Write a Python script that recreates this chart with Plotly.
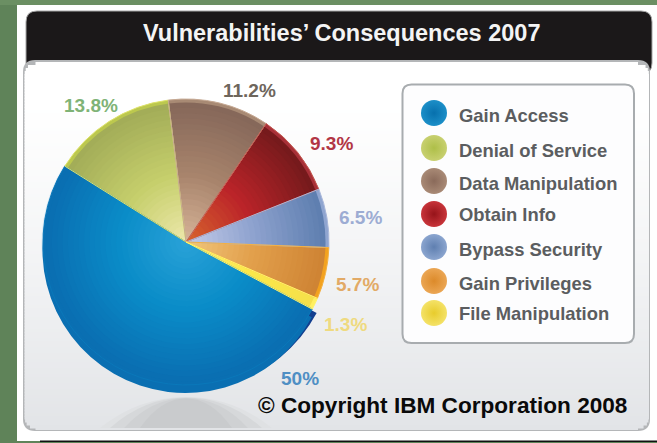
import plotly.graph_objects as go

# Chart content
TITLE = "Vulnerabilities’ Consequences 2007"
COPYRIGHT = "© Copyright IBM Corporation 2008"
categories = ["Gain Access", "Denial of Service", "Data Manipulation", "Obtain Info",
              "Bypass Security", "Gain Privileges", "File Manipulation"]
shares = [50, 13.8, 11.2, 9.3, 6.5, 5.7, 1.3]
share_labels = ["50%", "13.8%", "11.2%", "9.3%", "6.5%", "5.7%", "1.3%"]

W, H = 657, 443

# Slice shading: colour at the hub, mid radius, and outer edge, plus rim
hub_colors = ["#2aa3d8", "#efe9ae", "#d9b69a", "#d9682e", "#c6cdea", "#f2c87e", "#fff27a"]
mid_colors = ["#0a8cc8", "#c6cf6c", "#a8846c", "#bb2429", "#8fa3cf", "#e2a04c", "#fbe84a"]
edge_colors = ["#0a6fb2", "#a3ad58", "#86685a", "#761a1c", "#5f7fb0", "#cf8434", "#f6e04a"]
rim_colors = ["#0a6fb2", "#bcc84e", "#a88a74", "#a83038", "#8fa5d0", "#f3a21f", "#fff060"]
label_colors = ["#4f8fc4", "#7fb376", "#6e665c", "#b23645", "#9dacd3", "#e2aa66", "#efda80"]
swatch_hubs = ["#1c8fc8", "#c8d070", "#a98a76", "#c8343a", "#8ba5cf", "#eba654", "#f4e268"]
swatch_edges = ["#0770ad", "#aebf48", "#8a6a5a", "#96141a", "#5f7fb0", "#dc8a2a", "#e8cc2c"]

PIE_CX, PIE_CY, PIE_R = 186, 242, 143
PIE_ROTATION = 118


def to_rgb(h):
    return tuple(int(h[i:i + 2], 16) for i in (1, 3, 5))


def mix(a, b, t):
    ca, cb = to_rgb(a), to_rgb(b)
    return "rgb(%d,%d,%d)" % tuple(round(x + (y - x) * t) for x, y in zip(ca, cb))


def shade(i, f):
    # f is the fraction of the radius, 0 at the hub and 1 at the edge
    if f < 0.5:
        return mix(hub_colors[i], mid_colors[i], f / 0.5)
    return mix(mid_colors[i], edge_colors[i], (f - 0.5) / 0.5)


def pie_layer(cx, cy, r, colors, line=None):
    return go.Pie(
        values=shares, labels=categories, sort=False, direction="clockwise",
        rotation=PIE_ROTATION, textinfo="none", hoverinfo="skip", showlegend=False,
        domain=dict(x=[(cx - r) / W, (cx + r) / W], y=[1 - (cy + r) / H, 1 - (cy - r) / H]),
        marker=dict(colors=colors, line=line or dict(width=0)),
    )


fig = go.Figure()

# Pale halo, then the lower drop edge of the disc:
# a dark band on the lower right and a blue band across the bottom
clear = ["rgba(0,0,0,0)"] * 6
fig.add_trace(pie_layer(PIE_CX, PIE_CY + 1, PIE_R + 1.5, ["#d8e8f3"] + clear))
fig.add_trace(pie_layer(PIE_CX + 3.5, PIE_CY + 3.5, PIE_R + 1, ["#123f8f"] + clear))
fig.add_trace(pie_layer(PIE_CX - 0.5, PIE_CY + 8, PIE_R, ["#0a6fb2"] + clear))

# Rim of the top face
fig.add_trace(pie_layer(PIE_CX, PIE_CY, PIE_R, rim_colors))

# Concentric layers give each slice its radial shading
steps = 26
for k in range(steps):
    f = 1 - k / steps
    colors = [shade(i, f) for i in range(len(shares))]
    fig.add_trace(pie_layer(PIE_CX, PIE_CY, (PIE_R - 3.5) * f, colors))

# Thin dividers between slices
divider = ["#0a78ba", "#dfe36a", "#c6a993", "#c4584e", "#a9b7da", "#f4b040", "#fff46a"]
fig.add_trace(pie_layer(PIE_CX, PIE_CY, PIE_R, ["rgba(0,0,0,0)"] * 7,
                        dict(color=divider, width=1)))

# Legend swatches
swatch_x = [434] * 7
swatch_y = [113, 148, 181, 214, 247, 281, 313]
fig.add_trace(go.Scatter(
    x=swatch_x, y=swatch_y, mode="markers", hoverinfo="skip", showlegend=False,
    marker=dict(size=26, color=swatch_hubs, line=dict(width=0),
                gradient=dict(type="radial", color=swatch_edges)),
))

shapes = []


def rect(x0, y0, x1, y1, fill):
    shapes.append(dict(type="rect", x0=x0, y0=y0, x1=x1, y1=y1, fillcolor=fill,
                       line=dict(width=0), layer="below"))


def round_path(x0, y0, x1, y1, r):
    return (f"M {x0 + r} {y0} L {x1 - r} {y0} Q {x1} {y0} {x1} {y0 + r} "
            f"L {x1} {y1 - r} Q {x1} {y1} {x1 - r} {y1} L {x0 + r} {y1} "
            f"Q {x0} {y1} {x0} {y1 - r} L {x0} {y0 + r} Q {x0} {y0} {x0 + r} {y0} Z")


# Green page, white card
rect(0, 0, W, H, "#5f8359")
rect(0, 0, W, 5, "#6b8f63")
rect(17, 5, W, 441, "#ffffff")
rect(40, 440.5, W, 442, "#111111")

# Header band, its lower corners tucked behind the panel
shapes.append(dict(type="path", path=round_path(26, 11, 652, 74, 11), fillcolor="#1b1819",
                   line=dict(color="#a5a5a5", width=1), layer="below"))

# Panel outline, then its vertical gradient
shapes.append(dict(type="path", path=round_path(23, 60, 650, 431, 12), fillcolor="#b4b6b8",
                   line=dict(width=0), layer="below"))
PX0, PX1, PY0, PY1, PR = 24.5, 649, 62, 429.5, 11
y = PY0
while y < PY1:
    y2 = min(y + 3, PY1)
    t = (y - PY0) / (PY1 - PY0)
    col = mix("#ffffff", "#e2e4e7", max(0, (t - 0.1) / 0.9) ** 1.2)
    inset = 0
    if y < PY0 + PR:
        inset = PR - (PR ** 2 - (PY0 + PR - y) ** 2) ** 0.5
    elif y2 > PY1 - PR:
        inset = PR - max(PR ** 2 - (y2 - (PY1 - PR)) ** 2, 0) ** 0.5
    rect(PX0 + inset, y, PX1 - inset, y2 + 0.5, col)
    y = y2

# Reflection below the disc
for half, top, col in [(86, 397, "#dfe1e3"), (76, 397.5, "#d6d8da"), (62, 398, "#cfd1d3"),
                       (46, 398.5, "#c9cbcd")]:
    shapes.append(dict(type="path",
                       path=f"M {186 - half} 428 Q {186 - half * 0.55} {top} 186 {top} "
                            f"Q {186 + half * 0.55} {top} {186 + half} 428 Z",
                       fillcolor=col, line=dict(width=0), layer="below"))

# Legend box
shapes.append(dict(type="path", path=round_path(402.5, 84.5, 634, 343, 9), fillcolor="#fdfdfe",
                   line=dict(color="#a8acaf", width=2), layer="below"))

FONT = "Liberation Sans, Arial, sans-serif"
annotations = [
    dict(x=342, y=33, text=f"<b>{TITLE}</b>", font=dict(size=23.5, color="#f4f4f4", family=FONT)),
    dict(x=442.5, y=405, text=f"<b>{COPYRIGHT}</b>", font=dict(size=22.6, color="#0a0a0a", family=FONT)),
]

# Percentage labels beside the slices
label_pos = [(300, 378), (91, 105), (249, 90), (331, 143), (360, 217), (357, 284), (345, 324)]
for text, (lx, ly), col in zip(share_labels, label_pos, label_colors):
    annotations.append(dict(x=lx, y=ly, text=f"<b>{text}</b>",
                            font=dict(size=19, color=col, family=FONT)))

# Legend entries
legend_y = [115, 150, 183, 214, 249, 283, 313]
for name, ly in zip(categories, legend_y):
    annotations.append(dict(x=457, y=ly, text=f"<b>{name}</b>", xanchor="left",
                            font=dict(size=18.4, color="#5b5d60", family=FONT)))

for a in annotations:
    a.update(xref="x", yref="y", showarrow=False, yanchor="middle")
    a.setdefault("xanchor", "center")

fig.update_layout(
    width=W, height=H, margin=dict(l=0, r=0, t=0, b=0, pad=0), autosize=False,
    paper_bgcolor="#ffffff", plot_bgcolor="rgba(0,0,0,0)",
    xaxis=dict(range=[0, W], visible=False, fixedrange=True),
    yaxis=dict(range=[H, 0], visible=False, fixedrange=True),
    shapes=shapes, annotations=annotations,
)

fig.write_html("out.html", config=dict(displayModeBar=False))
